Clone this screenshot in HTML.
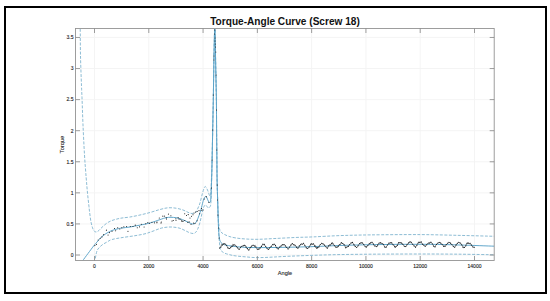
<!DOCTYPE html>
<html><head><meta charset="utf-8"><style>
html,body{margin:0;padding:0;background:#fff;width:550px;height:301px;overflow:hidden;font-family:"Liberation Sans",sans-serif;}
svg{display:block}
</style></head><body>
<svg width="550" height="301" viewBox="0 0 550 301">
<rect x="0" y="0" width="550" height="301" fill="#fff"/>
<rect x="5" y="7" width="541" height="286" fill="none" stroke="#000" stroke-width="2"/>
<defs><clipPath id="c"><rect x="75.5" y="28.9" width="418.7" height="231.6"/></clipPath></defs>
<path d="M94.50 28.50 V260.50 M148.79 28.50 V260.50 M203.07 28.50 V260.50 M257.36 28.50 V260.50 M311.64 28.50 V260.50 M365.93 28.50 V260.50 M420.21 28.50 V260.50 M474.50 28.50 V260.50 M75.50 255.00 H494.20 M75.50 223.93 H494.20 M75.50 192.85 H494.20 M75.50 161.78 H494.20 M75.50 130.70 H494.20 M75.50 99.62 H494.20 M75.50 68.55 H494.20 M75.50 37.47 H494.20" stroke="#f3f3f3" stroke-width="0.9" fill="none"/>
<g clip-path="url(#c)">
<path d="M79.80 20.00 C79.87 21.33 80.08 22.00 80.20 28.00 C80.32 34.00 80.28 46.33 80.50 56.00 C80.72 65.67 81.23 78.67 81.50 86.00 C81.77 93.33 81.85 93.50 82.10 100.00 C82.35 106.50 82.60 115.83 83.00 125.00 C83.40 134.17 83.97 146.17 84.50 155.00 C85.03 163.83 85.70 171.67 86.20 178.00 C86.70 184.33 87.07 188.50 87.50 193.00 C87.93 197.50 88.45 201.83 88.80 205.00 C89.15 208.17 89.23 209.17 89.60 212.00 C89.97 214.83 90.43 219.17 91.00 222.00 C91.57 224.83 92.30 227.37 93.00 229.00 C93.70 230.63 94.37 231.43 95.20 231.80 C96.03 232.17 96.87 231.95 98.00 231.20 C99.13 230.45 100.50 228.67 102.00 227.30 C103.50 225.93 105.33 224.13 107.00 223.00 C108.67 221.87 110.33 221.17 112.00 220.50 C113.67 219.83 115.33 219.42 117.00 219.00 C118.67 218.58 119.83 218.33 122.00 218.00 C124.17 217.67 127.00 217.50 130.00 217.00 C133.00 216.50 136.67 215.75 140.00 215.00 C143.33 214.25 146.67 213.42 150.00 212.50 C153.33 211.58 157.00 210.28 160.00 209.50 C163.00 208.72 165.33 208.02 168.00 207.80 C170.67 207.58 173.50 207.83 176.00 208.20 C178.50 208.57 181.00 209.32 183.00 210.00 C185.00 210.68 186.50 211.72 188.00 212.30 C189.50 212.88 190.67 213.55 192.00 213.50 C193.33 213.45 195.00 212.92 196.00 212.00 C197.00 211.08 197.33 209.50 198.00 208.00 C198.67 206.50 199.33 205.17 200.00 203.00 C200.67 200.83 201.37 197.33 202.00 195.00 C202.63 192.67 203.27 190.42 203.80 189.00 C204.33 187.58 204.70 186.58 205.20 186.50 C205.70 186.42 206.28 187.58 206.80 188.50 C207.32 189.42 207.80 190.75 208.30 192.00 C208.80 193.25 209.38 195.83 209.80 196.00 C210.22 196.17 210.50 196.50 210.80 193.00 C211.10 189.50 211.38 180.50 211.60 175.00 C211.82 169.50 211.95 165.83 212.10 160.00 C212.25 154.17 212.37 146.67 212.50 140.00 C212.63 133.33 212.77 126.67 212.90 120.00 C213.03 113.33 213.16 108.33 213.30 100.00 C213.44 91.67 213.62 78.33 213.75 70.00 C213.88 61.67 213.92 57.17 214.10 50.00 C214.28 42.83 214.58 27.00 214.80 27.00 C215.02 27.00 215.22 42.00 215.40 50.00 C215.58 58.00 215.73 66.67 215.90 75.00 C216.07 83.33 216.28 90.83 216.40 100.00 C216.52 109.17 216.52 120.00 216.60 130.00 C216.68 140.00 216.82 151.67 216.90 160.00 C216.98 168.33 217.00 174.17 217.10 180.00 C217.20 185.83 217.37 190.33 217.50 195.00 C217.63 199.67 217.73 203.67 217.90 208.00 C218.07 212.33 218.23 217.58 218.50 221.00 C218.77 224.42 219.08 226.67 219.50 228.50 C219.92 230.33 220.25 231.05 221.00 232.00 C221.75 232.95 222.67 233.47 224.00 234.20 C225.33 234.93 227.00 235.77 229.00 236.40 C231.00 237.03 233.17 237.57 236.00 238.00 C238.83 238.43 242.33 238.78 246.00 239.00 C249.67 239.22 253.17 239.38 258.00 239.30 C262.83 239.22 268.83 238.80 275.00 238.50 C281.17 238.20 288.67 237.77 295.00 237.50 C301.33 237.23 305.50 237.22 313.00 236.90 C320.50 236.58 330.50 235.93 340.00 235.60 C349.50 235.27 356.67 235.07 370.00 234.90 C383.33 234.73 405.00 234.52 420.00 234.60 C435.00 234.68 447.58 235.12 460.00 235.40 C472.42 235.68 488.75 236.15 494.50 236.30" stroke="#80b4cf" stroke-width="0.9" fill="none" stroke-dasharray="3 1.5"/>
<path d="M94.80 263.00 C94.90 262.17 95.12 259.75 95.40 258.00 C95.68 256.25 96.07 254.00 96.50 252.50 C96.93 251.00 97.08 250.25 98.00 249.00 C98.92 247.75 100.50 246.17 102.00 245.00 C103.50 243.83 105.33 242.92 107.00 242.00 C108.67 241.08 109.50 240.23 112.00 239.50 C114.50 238.77 118.17 238.23 122.00 237.60 C125.83 236.97 131.17 236.33 135.00 235.70 C138.83 235.07 142.17 234.50 145.00 233.80 C147.83 233.10 149.50 232.38 152.00 231.50 C154.50 230.62 157.83 229.18 160.00 228.50 C162.17 227.82 163.33 227.65 165.00 227.40 C166.67 227.15 168.33 227.02 170.00 227.00 C171.67 226.98 173.33 227.08 175.00 227.30 C176.67 227.52 178.33 227.77 180.00 228.30 C181.67 228.83 183.50 229.80 185.00 230.50 C186.50 231.20 187.67 232.00 189.00 232.50 C190.33 233.00 191.92 233.50 193.00 233.50 C194.08 233.50 194.75 233.17 195.50 232.50 C196.25 231.83 196.83 230.92 197.50 229.50 C198.17 228.08 198.92 225.92 199.50 224.00 C200.08 222.08 200.50 220.17 201.00 218.00 C201.50 215.83 202.00 212.92 202.50 211.00 C203.00 209.08 203.50 207.50 204.00 206.50 C204.50 205.50 205.00 205.00 205.50 205.00 C206.00 205.00 206.50 206.00 207.00 206.50 C207.50 207.00 208.03 207.92 208.50 208.00 C208.97 208.08 209.42 207.67 209.80 207.00 C210.18 206.33 210.55 206.50 210.80 204.00 C211.05 201.50 211.15 196.33 211.30 192.00 C211.45 187.67 211.57 183.33 211.70 178.00 C211.83 172.67 211.97 166.33 212.10 160.00 C212.23 153.67 212.37 146.67 212.50 140.00 C212.63 133.33 212.77 126.67 212.90 120.00 C213.03 113.33 213.16 108.33 213.30 100.00 C213.44 91.67 213.62 78.33 213.75 70.00 C213.88 61.67 213.92 57.17 214.10 50.00 C214.28 42.83 214.58 27.00 214.80 27.00 C215.02 27.00 215.22 42.00 215.40 50.00 C215.58 58.00 215.73 66.67 215.90 75.00 C216.07 83.33 216.28 90.83 216.40 100.00 C216.52 109.17 216.52 120.00 216.60 130.00 C216.68 140.00 216.82 151.67 216.90 160.00 C216.98 168.33 217.00 174.17 217.10 180.00 C217.20 185.83 217.33 189.17 217.50 195.00 C217.67 200.83 217.90 208.83 218.10 215.00 C218.30 221.17 218.45 227.17 218.70 232.00 C218.95 236.83 219.28 241.08 219.60 244.00 C219.92 246.92 220.20 248.25 220.60 249.50 C221.00 250.75 221.27 250.87 222.00 251.50 C222.73 252.13 223.67 252.75 225.00 253.30 C226.33 253.85 228.33 254.38 230.00 254.80 C231.67 255.22 232.50 255.47 235.00 255.80 C237.50 256.13 240.83 256.50 245.00 256.80 C249.17 257.10 252.50 257.70 260.00 257.60 C267.50 257.50 278.33 256.67 290.00 256.20 C301.67 255.73 316.67 255.13 330.00 254.80 C343.33 254.47 355.00 254.33 370.00 254.20 C385.00 254.07 405.00 254.00 420.00 254.00 C435.00 254.00 447.58 254.07 460.00 254.20 C472.42 254.33 488.75 254.70 494.50 254.80" stroke="#80b4cf" stroke-width="0.9" fill="none" stroke-dasharray="3 1.5"/>
<path d="M81.30 263.00 C81.50 262.67 81.38 262.58 82.50 261.00 C83.62 259.42 86.08 256.08 88.00 253.50 C89.92 250.92 92.50 247.42 94.00 245.50 C95.50 243.58 95.67 243.50 97.00 242.00 C98.33 240.50 100.33 238.00 102.00 236.50 C103.67 235.00 105.33 234.00 107.00 233.00 C108.67 232.00 110.33 231.17 112.00 230.50 C113.67 229.83 115.33 229.42 117.00 229.00 C118.67 228.58 119.83 228.33 122.00 228.00 C124.17 227.67 127.00 227.48 130.00 227.00 C133.00 226.52 136.67 225.77 140.00 225.10 C143.33 224.43 146.67 223.92 150.00 223.00 C153.33 222.08 157.33 220.48 160.00 219.60 C162.67 218.72 164.17 218.08 166.00 217.70 C167.83 217.32 169.33 217.30 171.00 217.30 C172.67 217.30 174.50 217.47 176.00 217.70 C177.50 217.93 178.50 218.20 180.00 218.70 C181.50 219.20 183.50 220.05 185.00 220.70 C186.50 221.35 187.75 222.05 189.00 222.60 C190.25 223.15 191.50 223.87 192.50 224.00 C193.50 224.13 194.25 223.98 195.00 223.40 C195.75 222.82 196.33 221.82 197.00 220.50 C197.67 219.18 198.33 217.33 199.00 215.50 C199.67 213.67 200.33 211.83 201.00 209.50 C201.67 207.17 202.42 203.50 203.00 201.50 C203.58 199.50 204.03 198.33 204.50 197.50 C204.97 196.67 205.38 196.42 205.80 196.50 C206.22 196.58 206.55 197.17 207.00 198.00 C207.45 198.83 208.03 200.80 208.50 201.50 C208.97 202.20 209.42 202.62 209.80 202.20 C210.18 201.78 210.50 202.70 210.80 199.00 C211.10 195.30 211.38 186.50 211.60 180.00 C211.82 173.50 211.95 166.67 212.10 160.00 C212.25 153.33 212.37 146.67 212.50 140.00 C212.63 133.33 212.77 126.67 212.90 120.00 C213.03 113.33 213.16 108.33 213.30 100.00 C213.44 91.67 213.62 78.33 213.75 70.00 C213.88 61.67 213.92 57.17 214.10 50.00 C214.28 42.83 214.58 27.00 214.80 27.00 C215.02 27.00 215.22 42.00 215.40 50.00 C215.58 58.00 215.73 66.67 215.90 75.00 C216.07 83.33 216.28 90.83 216.40 100.00 C216.52 109.17 216.52 120.00 216.60 130.00 C216.68 140.00 216.82 151.67 216.90 160.00 C216.98 168.33 217.00 174.17 217.10 180.00 C217.20 185.83 217.35 189.67 217.50 195.00 C217.65 200.33 217.83 206.67 218.00 212.00 C218.17 217.33 218.30 222.83 218.50 227.00 C218.70 231.17 218.90 234.60 219.20 237.00 C219.50 239.40 219.83 240.30 220.30 241.40 C220.77 242.50 221.30 243.03 222.00 243.60 C222.70 244.17 222.50 244.33 224.50 244.80 C226.50 245.27 229.75 245.95 234.00 246.40 C238.25 246.85 242.33 247.33 250.00 247.50 C257.67 247.67 269.50 247.55 280.00 247.40 C290.50 247.25 303.00 246.92 313.00 246.60 C323.00 246.28 330.50 245.82 340.00 245.50 C349.50 245.18 360.00 244.90 370.00 244.70 C380.00 244.50 390.00 244.37 400.00 244.30 C410.00 244.23 420.00 244.18 430.00 244.30 C440.00 244.42 449.25 244.68 460.00 245.00 C470.75 245.32 488.75 246.00 494.50 246.20" stroke="#5aa2c8" stroke-width="0.95" fill="none"/>
<path d="M219.50 248.03 L220.20 247.88 L220.90 247.09 L221.60 244.50 L222.30 245.11 L223.00 243.53 L223.70 244.12 L224.40 243.21 L225.10 244.07 L225.80 245.00 L226.50 245.32 L227.20 246.57 L227.90 247.92 L228.60 248.44 L229.30 248.52 L230.00 248.69 L230.70 247.57 L231.40 246.02 L232.10 246.41 L232.80 244.35 L233.50 244.98 L234.20 244.54 L234.90 244.95 L235.60 245.71 L236.30 246.36 L237.00 247.61 L237.70 247.83 L238.40 248.58 L239.10 249.56 L239.80 248.41 L240.50 247.43 L241.20 246.21 L241.90 246.46 L242.60 245.73 L243.30 245.80 L244.00 244.84 L244.70 245.44 L245.40 245.49 L246.10 247.08 L246.80 248.45 L247.50 248.49 L248.20 250.15 L248.90 249.99 L249.60 248.95 L250.30 247.23 L251.00 247.48 L251.70 245.99 L252.40 245.22 L253.10 245.36 L253.80 245.32 L254.50 245.94 L255.20 245.39 L255.90 247.05 L256.60 248.23 L257.30 249.24 L258.00 249.26 L258.70 249.10 L259.40 249.22 L260.10 247.85 L260.80 246.76 L261.50 246.39 L262.20 245.16 L262.90 244.08 L263.60 244.81 L264.30 244.41 L265.00 245.94 L265.70 246.54 L266.40 247.21 L267.10 248.47 L267.80 249.47 L268.50 249.21 L269.20 249.11 L269.90 247.54 L270.60 246.89 L271.30 246.18 L272.00 245.67 L272.70 244.49 L273.40 245.08 L274.10 244.16 L274.80 244.94 L275.50 245.39 L276.20 247.64 L276.90 247.74 L277.60 248.88 L278.30 248.85 L279.00 248.31 L279.70 247.06 L280.40 246.30 L281.10 246.04 L281.80 244.78 L282.50 244.72 L283.20 244.88 L283.90 244.58 L284.60 244.63 L285.30 245.71 L286.00 247.41 L286.70 247.34 L287.40 248.40 L288.10 249.07 L288.80 248.37 L289.50 247.03 L290.20 246.26 L290.90 245.12 L291.60 244.04 L292.30 243.63 L293.00 243.97 L293.70 244.78 L294.40 244.66 L295.10 245.34 L295.80 246.44 L296.50 247.14 L297.20 248.35 L297.90 247.94 L298.60 247.94 L299.30 245.82 L300.00 245.81 L300.70 244.55 L301.40 243.49 L302.10 244.31 L302.80 243.89 L303.50 243.30 L304.20 244.33 L304.90 245.61 L305.60 246.36 L306.30 247.87 L307.00 248.49 L307.70 248.46 L308.40 247.70 L309.10 247.08 L309.80 245.72 L310.50 244.77 L311.20 243.22 L311.90 244.17 L312.60 244.32 L313.30 243.87 L314.00 244.30 L314.70 246.08 L315.40 245.65 L316.10 247.55 L316.80 248.96 L317.50 247.61 L318.20 247.63 L318.90 247.07 L319.60 245.18 L320.30 244.60 L321.00 244.20 L321.70 243.24 L322.40 243.55 L323.10 243.91 L323.80 244.62 L324.50 245.10 L325.20 246.09 L325.90 246.77 L326.60 247.64 L327.30 248.13 L328.00 247.17 L328.70 245.75 L329.40 244.67 L330.10 245.22 L330.80 244.09 L331.50 243.65 L332.20 242.35 L332.90 243.85 L333.60 244.30 L334.30 245.61 L335.00 246.17 L335.70 246.98 L336.40 247.82 L337.10 246.81 L337.80 247.35 L338.50 246.04 L339.20 244.55 L339.90 244.51 L340.60 244.19 L341.30 242.67 L342.00 242.96 L342.70 243.56 L343.40 244.03 L344.10 244.63 L344.80 245.46 L345.50 247.70 L346.20 247.87 L346.90 246.94 L347.60 246.23 L348.30 246.41 L349.00 245.04 L349.70 244.53 L350.40 243.62 L351.10 242.72 L351.80 243.17 L352.50 242.42 L353.20 243.50 L353.90 244.62 L354.60 245.92 L355.30 246.41 L356.00 247.25 L356.70 247.44 L357.40 246.74 L358.10 245.80 L358.80 244.55 L359.50 243.50 L360.20 243.44 L360.90 242.92 L361.60 242.57 L362.30 242.88 L363.00 243.65 L363.70 244.45 L364.40 245.62 L365.10 246.55 L365.80 247.21 L366.50 247.03 L367.20 245.91 L367.90 245.53 L368.60 244.71 L369.30 243.63 L370.00 242.88 L370.70 242.92 L371.40 242.36 L372.10 242.21 L372.80 243.53 L373.50 243.99 L374.20 245.72 L374.90 245.99 L375.60 245.95 L376.30 246.53 L377.00 246.90 L377.70 245.07 L378.40 243.61 L379.10 243.03 L379.80 243.05 L380.50 242.83 L381.20 242.71 L381.90 243.47 L382.60 243.70 L383.30 244.27 L384.00 245.59 L384.70 247.00 L385.40 247.30 L386.10 247.25 L386.80 245.72 L387.50 245.05 L388.20 244.33 L388.90 243.10 L389.60 243.16 L390.30 242.77 L391.00 242.91 L391.70 242.70 L392.40 244.35 L393.10 244.69 L393.80 245.18 L394.50 246.29 L395.20 247.85 L395.90 246.60 L396.60 246.39 L397.30 245.38 L398.00 243.93 L398.70 242.65 L399.40 242.71 L400.10 242.58 L400.80 242.90 L401.50 243.01 L402.20 243.25 L402.90 244.45 L403.60 245.40 L404.30 246.25 L405.00 246.74 L405.70 246.53 L406.40 246.20 L407.10 244.45 L407.80 243.56 L408.50 243.01 L409.20 241.95 L409.90 242.16 L410.60 241.55 L411.30 242.33 L412.00 243.38 L412.70 244.26 L413.40 245.08 L414.10 245.99 L414.80 246.06 L415.50 247.26 L416.20 246.02 L416.90 245.20 L417.60 243.35 L418.30 242.83 L419.00 241.70 L419.70 242.55 L420.40 242.63 L421.10 241.75 L421.80 243.05 L422.50 244.21 L423.20 244.35 L423.90 245.32 L424.60 246.17 L425.30 246.25 L426.00 245.24 L426.70 244.78 L427.40 243.83 L428.10 243.20 L428.80 242.78 L429.50 242.93 L430.20 242.84 L430.90 242.13 L431.60 243.03 L432.30 243.71 L433.00 244.80 L433.70 246.18 L434.40 246.76 L435.10 246.85 L435.80 245.31 L436.50 244.41 L437.20 243.86 L437.90 243.01 L438.60 242.53 L439.30 242.46 L440.00 242.23 L440.70 243.09 L441.40 243.54 L442.10 244.27 L442.80 245.13 L443.50 246.31 L444.20 245.83 L444.90 246.41 L445.60 246.10 L446.30 244.44 L447.00 244.09 L447.70 243.30 L448.40 242.25 L449.10 242.54 L449.80 242.56 L450.50 243.16 L451.20 243.81 L451.90 244.46 L452.60 245.23 L453.30 246.49 L454.00 247.05 L454.70 247.24 L455.40 246.34 L456.10 244.89 L456.80 243.61 L457.50 243.23 L458.20 242.65 L458.90 242.35 L459.60 242.80 L460.30 242.93 L461.00 243.76 L461.70 244.84 L462.40 245.56 L463.10 247.62 L463.80 247.07 L464.50 247.50 L465.20 246.37 L465.90 245.71 L466.60 243.28 L467.30 243.16 L468.00 243.13 L468.70 243.11 L469.40 243.85 L470.10 243.33 L470.80 244.31 L471.50 245.02 L472.20 246.19 L472.90 246.97 L473.60 247.21 L474.30 247.32" stroke="#2a2f33" stroke-width="0.75" stroke-linejoin="round" fill="none" opacity="0.85"/>
<g fill="#1e2326"><circle cx="219.50" cy="248.03" r="0.55"/><circle cx="220.90" cy="247.09" r="0.55"/><circle cx="222.30" cy="245.11" r="0.55"/><circle cx="223.70" cy="244.12" r="0.55"/><circle cx="225.10" cy="244.07" r="0.55"/><circle cx="226.50" cy="245.32" r="0.55"/><circle cx="227.90" cy="247.92" r="0.55"/><circle cx="229.30" cy="248.52" r="0.55"/><circle cx="230.70" cy="247.57" r="0.55"/><circle cx="232.10" cy="246.41" r="0.55"/><circle cx="233.50" cy="244.98" r="0.55"/><circle cx="234.90" cy="244.95" r="0.55"/><circle cx="236.30" cy="246.36" r="0.55"/><circle cx="237.70" cy="247.83" r="0.55"/><circle cx="239.10" cy="249.56" r="0.55"/><circle cx="240.50" cy="247.43" r="0.55"/><circle cx="241.90" cy="246.46" r="0.55"/><circle cx="243.30" cy="245.80" r="0.55"/><circle cx="244.70" cy="245.44" r="0.55"/><circle cx="246.10" cy="247.08" r="0.55"/><circle cx="247.50" cy="248.49" r="0.55"/><circle cx="248.90" cy="249.99" r="0.55"/><circle cx="250.30" cy="247.23" r="0.55"/><circle cx="251.70" cy="245.99" r="0.55"/><circle cx="253.10" cy="245.36" r="0.55"/><circle cx="254.50" cy="245.94" r="0.55"/><circle cx="255.90" cy="247.05" r="0.55"/><circle cx="257.30" cy="249.24" r="0.55"/><circle cx="258.70" cy="249.10" r="0.55"/><circle cx="260.10" cy="247.85" r="0.55"/><circle cx="261.50" cy="246.39" r="0.55"/><circle cx="262.90" cy="244.08" r="0.55"/><circle cx="264.30" cy="244.41" r="0.55"/><circle cx="265.70" cy="246.54" r="0.55"/><circle cx="267.10" cy="248.47" r="0.55"/><circle cx="268.50" cy="249.21" r="0.55"/><circle cx="269.90" cy="247.54" r="0.55"/><circle cx="271.30" cy="246.18" r="0.55"/><circle cx="272.70" cy="244.49" r="0.55"/><circle cx="274.10" cy="244.16" r="0.55"/><circle cx="275.50" cy="245.39" r="0.55"/><circle cx="276.90" cy="247.74" r="0.55"/><circle cx="278.30" cy="248.85" r="0.55"/><circle cx="279.70" cy="247.06" r="0.55"/><circle cx="281.10" cy="246.04" r="0.55"/><circle cx="282.50" cy="244.72" r="0.55"/><circle cx="283.90" cy="244.58" r="0.55"/><circle cx="285.30" cy="245.71" r="0.55"/><circle cx="286.70" cy="247.34" r="0.55"/><circle cx="288.10" cy="249.07" r="0.55"/><circle cx="289.50" cy="247.03" r="0.55"/><circle cx="290.90" cy="245.12" r="0.55"/><circle cx="292.30" cy="243.63" r="0.55"/><circle cx="293.70" cy="244.78" r="0.55"/><circle cx="295.10" cy="245.34" r="0.55"/><circle cx="296.50" cy="247.14" r="0.55"/><circle cx="297.90" cy="247.94" r="0.55"/><circle cx="299.30" cy="245.82" r="0.55"/><circle cx="300.70" cy="244.55" r="0.55"/><circle cx="302.10" cy="244.31" r="0.55"/><circle cx="303.50" cy="243.30" r="0.55"/><circle cx="304.90" cy="245.61" r="0.55"/><circle cx="306.30" cy="247.87" r="0.55"/><circle cx="307.70" cy="248.46" r="0.55"/><circle cx="309.10" cy="247.08" r="0.55"/><circle cx="310.50" cy="244.77" r="0.55"/><circle cx="311.90" cy="244.17" r="0.55"/><circle cx="313.30" cy="243.87" r="0.55"/><circle cx="314.70" cy="246.08" r="0.55"/><circle cx="316.10" cy="247.55" r="0.55"/><circle cx="317.50" cy="247.61" r="0.55"/><circle cx="318.90" cy="247.07" r="0.55"/><circle cx="320.30" cy="244.60" r="0.55"/><circle cx="321.70" cy="243.24" r="0.55"/><circle cx="323.10" cy="243.91" r="0.55"/><circle cx="324.50" cy="245.10" r="0.55"/><circle cx="325.90" cy="246.77" r="0.55"/><circle cx="327.30" cy="248.13" r="0.55"/><circle cx="328.70" cy="245.75" r="0.55"/><circle cx="330.10" cy="245.22" r="0.55"/><circle cx="331.50" cy="243.65" r="0.55"/><circle cx="332.90" cy="243.85" r="0.55"/><circle cx="334.30" cy="245.61" r="0.55"/><circle cx="335.70" cy="246.98" r="0.55"/><circle cx="337.10" cy="246.81" r="0.55"/><circle cx="338.50" cy="246.04" r="0.55"/><circle cx="339.90" cy="244.51" r="0.55"/><circle cx="341.30" cy="242.67" r="0.55"/><circle cx="342.70" cy="243.56" r="0.55"/><circle cx="344.10" cy="244.63" r="0.55"/><circle cx="345.50" cy="247.70" r="0.55"/><circle cx="346.90" cy="246.94" r="0.55"/><circle cx="348.30" cy="246.41" r="0.55"/><circle cx="349.70" cy="244.53" r="0.55"/><circle cx="351.10" cy="242.72" r="0.55"/><circle cx="352.50" cy="242.42" r="0.55"/><circle cx="353.90" cy="244.62" r="0.55"/><circle cx="355.30" cy="246.41" r="0.55"/><circle cx="356.70" cy="247.44" r="0.55"/><circle cx="358.10" cy="245.80" r="0.55"/><circle cx="359.50" cy="243.50" r="0.55"/><circle cx="360.90" cy="242.92" r="0.55"/><circle cx="362.30" cy="242.88" r="0.55"/><circle cx="363.70" cy="244.45" r="0.55"/><circle cx="365.10" cy="246.55" r="0.55"/><circle cx="366.50" cy="247.03" r="0.55"/><circle cx="367.90" cy="245.53" r="0.55"/><circle cx="369.30" cy="243.63" r="0.55"/><circle cx="370.70" cy="242.92" r="0.55"/><circle cx="372.10" cy="242.21" r="0.55"/><circle cx="373.50" cy="243.99" r="0.55"/><circle cx="374.90" cy="245.99" r="0.55"/><circle cx="376.30" cy="246.53" r="0.55"/><circle cx="377.70" cy="245.07" r="0.55"/><circle cx="379.10" cy="243.03" r="0.55"/><circle cx="380.50" cy="242.83" r="0.55"/><circle cx="381.90" cy="243.47" r="0.55"/><circle cx="383.30" cy="244.27" r="0.55"/><circle cx="384.70" cy="247.00" r="0.55"/><circle cx="386.10" cy="247.25" r="0.55"/><circle cx="387.50" cy="245.05" r="0.55"/><circle cx="388.90" cy="243.10" r="0.55"/><circle cx="390.30" cy="242.77" r="0.55"/><circle cx="391.70" cy="242.70" r="0.55"/><circle cx="393.10" cy="244.69" r="0.55"/><circle cx="394.50" cy="246.29" r="0.55"/><circle cx="395.90" cy="246.60" r="0.55"/><circle cx="397.30" cy="245.38" r="0.55"/><circle cx="398.70" cy="242.65" r="0.55"/><circle cx="400.10" cy="242.58" r="0.55"/><circle cx="401.50" cy="243.01" r="0.55"/><circle cx="402.90" cy="244.45" r="0.55"/><circle cx="404.30" cy="246.25" r="0.55"/><circle cx="405.70" cy="246.53" r="0.55"/><circle cx="407.10" cy="244.45" r="0.55"/><circle cx="408.50" cy="243.01" r="0.55"/><circle cx="409.90" cy="242.16" r="0.55"/><circle cx="411.30" cy="242.33" r="0.55"/><circle cx="412.70" cy="244.26" r="0.55"/><circle cx="414.10" cy="245.99" r="0.55"/><circle cx="415.50" cy="247.26" r="0.55"/><circle cx="416.90" cy="245.20" r="0.55"/><circle cx="418.30" cy="242.83" r="0.55"/><circle cx="419.70" cy="242.55" r="0.55"/><circle cx="421.10" cy="241.75" r="0.55"/><circle cx="422.50" cy="244.21" r="0.55"/><circle cx="423.90" cy="245.32" r="0.55"/><circle cx="425.30" cy="246.25" r="0.55"/><circle cx="426.70" cy="244.78" r="0.55"/><circle cx="428.10" cy="243.20" r="0.55"/><circle cx="429.50" cy="242.93" r="0.55"/><circle cx="430.90" cy="242.13" r="0.55"/><circle cx="432.30" cy="243.71" r="0.55"/><circle cx="433.70" cy="246.18" r="0.55"/><circle cx="435.10" cy="246.85" r="0.55"/><circle cx="436.50" cy="244.41" r="0.55"/><circle cx="437.90" cy="243.01" r="0.55"/><circle cx="439.30" cy="242.46" r="0.55"/><circle cx="440.70" cy="243.09" r="0.55"/><circle cx="442.10" cy="244.27" r="0.55"/><circle cx="443.50" cy="246.31" r="0.55"/><circle cx="444.90" cy="246.41" r="0.55"/><circle cx="446.30" cy="244.44" r="0.55"/><circle cx="447.70" cy="243.30" r="0.55"/><circle cx="449.10" cy="242.54" r="0.55"/><circle cx="450.50" cy="243.16" r="0.55"/><circle cx="451.90" cy="244.46" r="0.55"/><circle cx="453.30" cy="246.49" r="0.55"/><circle cx="454.70" cy="247.24" r="0.55"/><circle cx="456.10" cy="244.89" r="0.55"/><circle cx="457.50" cy="243.23" r="0.55"/><circle cx="458.90" cy="242.35" r="0.55"/><circle cx="460.30" cy="242.93" r="0.55"/><circle cx="461.70" cy="244.84" r="0.55"/><circle cx="463.10" cy="247.62" r="0.55"/><circle cx="464.50" cy="247.50" r="0.55"/><circle cx="465.90" cy="245.71" r="0.55"/><circle cx="467.30" cy="243.16" r="0.55"/><circle cx="468.70" cy="243.11" r="0.55"/><circle cx="470.10" cy="243.33" r="0.55"/><circle cx="471.50" cy="245.02" r="0.55"/><circle cx="472.90" cy="246.97" r="0.55"/><circle cx="474.30" cy="247.32" r="0.55"/></g>
<circle cx="94.89" cy="245.60" r="0.55" fill="#1a1a1a"/>
<circle cx="96.52" cy="244.35" r="0.55" fill="#1a1a1a"/>
<circle cx="98.15" cy="240.03" r="0.55" fill="#1a1a1a"/>
<circle cx="100.16" cy="238.22" r="0.55" fill="#1a1a1a"/>
<circle cx="101.90" cy="236.92" r="0.55" fill="#1a1a1a"/>
<circle cx="103.74" cy="234.65" r="0.55" fill="#1a1a1a"/>
<circle cx="106.43" cy="230.16" r="0.55" fill="#1a1a1a"/>
<circle cx="108.07" cy="235.05" r="0.55" fill="#1a1a1a"/>
<circle cx="109.44" cy="232.62" r="0.55" fill="#1a1a1a"/>
<circle cx="112.01" cy="231.31" r="0.55" fill="#1a1a1a"/>
<circle cx="114.50" cy="228.46" r="0.55" fill="#1a1a1a"/>
<circle cx="115.64" cy="230.69" r="0.55" fill="#1a1a1a"/>
<circle cx="117.70" cy="227.71" r="0.55" fill="#1a1a1a"/>
<circle cx="119.78" cy="229.01" r="0.55" fill="#1a1a1a"/>
<circle cx="121.81" cy="227.72" r="0.55" fill="#1a1a1a"/>
<circle cx="123.85" cy="226.71" r="0.55" fill="#1a1a1a"/>
<circle cx="126.60" cy="226.45" r="0.55" fill="#1a1a1a"/>
<circle cx="127.98" cy="231.33" r="0.55" fill="#1a1a1a"/>
<circle cx="130.28" cy="226.48" r="0.55" fill="#1a1a1a"/>
<circle cx="132.98" cy="226.49" r="0.55" fill="#1a1a1a"/>
<circle cx="135.25" cy="225.14" r="0.55" fill="#1a1a1a"/>
<circle cx="137.30" cy="227.75" r="0.55" fill="#1a1a1a"/>
<circle cx="139.50" cy="226.83" r="0.55" fill="#1a1a1a"/>
<circle cx="141.36" cy="224.18" r="0.55" fill="#1a1a1a"/>
<circle cx="144.09" cy="227.04" r="0.55" fill="#1a1a1a"/>
<circle cx="145.74" cy="223.76" r="0.55" fill="#1a1a1a"/>
<circle cx="147.85" cy="222.51" r="0.55" fill="#1a1a1a"/>
<circle cx="149.44" cy="223.28" r="0.55" fill="#1a1a1a"/>
<circle cx="151.96" cy="222.28" r="0.55" fill="#1a1a1a"/>
<circle cx="154.55" cy="222.86" r="0.55" fill="#1a1a1a"/>
<circle cx="156.86" cy="222.74" r="0.55" fill="#1a1a1a"/>
<circle cx="159.30" cy="217.94" r="0.55" fill="#1a1a1a"/>
<circle cx="161.33" cy="221.97" r="0.55" fill="#1a1a1a"/>
<circle cx="162.84" cy="216.13" r="0.55" fill="#1a1a1a"/>
<circle cx="164.60" cy="216.10" r="0.55" fill="#1a1a1a"/>
<circle cx="166.23" cy="217.85" r="0.55" fill="#1a1a1a"/>
<circle cx="168.43" cy="214.11" r="0.55" fill="#1a1a1a"/>
<circle cx="170.89" cy="215.81" r="0.55" fill="#1a1a1a"/>
<circle cx="173.25" cy="220.50" r="0.55" fill="#1a1a1a"/>
<circle cx="175.86" cy="218.74" r="0.55" fill="#1a1a1a"/>
<circle cx="178.09" cy="217.67" r="0.55" fill="#1a1a1a"/>
<circle cx="180.18" cy="219.29" r="0.55" fill="#1a1a1a"/>
<circle cx="181.76" cy="220.19" r="0.55" fill="#1a1a1a"/>
<circle cx="183.11" cy="221.23" r="0.55" fill="#1a1a1a"/>
<circle cx="184.78" cy="220.49" r="0.55" fill="#1a1a1a"/>
<circle cx="187.71" cy="222.21" r="0.55" fill="#1a1a1a"/>
<circle cx="189.10" cy="221.88" r="0.55" fill="#1a1a1a"/>
<circle cx="191.03" cy="224.50" r="0.55" fill="#1a1a1a"/>
<circle cx="193.59" cy="223.10" r="0.55" fill="#1a1a1a"/>
<circle cx="195.06" cy="223.24" r="0.55" fill="#1a1a1a"/>
<circle cx="197.12" cy="220.78" r="0.55" fill="#1a1a1a"/>
<circle cx="199.67" cy="213.80" r="0.55" fill="#1a1a1a"/>
<circle cx="201.29" cy="210.26" r="0.55" fill="#1a1a1a"/>
<circle cx="204.25" cy="199.06" r="0.55" fill="#1a1a1a"/>
<circle cx="206.26" cy="196.65" r="0.55" fill="#1a1a1a"/>
<circle cx="208.91" cy="202.38" r="0.55" fill="#1a1a1a"/>
<circle cx="184.70" cy="213.80" r="0.55" fill="#1a1a1a"/>
<circle cx="186.50" cy="215.50" r="0.55" fill="#1a1a1a"/>
<circle cx="188.20" cy="214.60" r="0.55" fill="#1a1a1a"/>
<circle cx="190.00" cy="218.00" r="0.55" fill="#1a1a1a"/>
<circle cx="191.50" cy="216.20" r="0.55" fill="#1a1a1a"/>
<circle cx="193.00" cy="214.80" r="0.55" fill="#1a1a1a"/>
<circle cx="194.00" cy="213.00" r="0.55" fill="#1a1a1a"/>
<circle cx="195.70" cy="212.00" r="0.55" fill="#1a1a1a"/>
<circle cx="197.20" cy="211.50" r="0.55" fill="#1a1a1a"/>
<circle cx="199.00" cy="210.60" r="0.55" fill="#1a1a1a"/>
<circle cx="201.50" cy="208.50" r="0.55" fill="#1a1a1a"/>
<circle cx="203.00" cy="210.00" r="0.55" fill="#1a1a1a"/>
<circle cx="157.00" cy="222.00" r="0.55" fill="#1a1a1a"/>
<circle cx="161.00" cy="223.00" r="0.55" fill="#1a1a1a"/>
<circle cx="166.50" cy="219.00" r="0.55" fill="#1a1a1a"/>
<circle cx="172.00" cy="221.00" r="0.55" fill="#1a1a1a"/>
<circle cx="179.00" cy="219.00" r="0.55" fill="#1a1a1a"/>
<circle cx="176.00" cy="220.30" r="0.55" fill="#1a1a1a"/>
<circle cx="182.00" cy="221.40" r="0.55" fill="#1a1a1a"/>
<circle cx="214.80" cy="30.00" r="0.55" fill="#1a1a1a"/>
<circle cx="214.60" cy="34.00" r="0.55" fill="#1a1a1a"/>
<circle cx="215.10" cy="38.00" r="0.55" fill="#1a1a1a"/>
<circle cx="215.00" cy="41.00" r="0.55" fill="#1a1a1a"/>
<circle cx="215.30" cy="44.00" r="0.55" fill="#1a1a1a"/>
<circle cx="215.50" cy="47.00" r="0.55" fill="#1a1a1a"/>
<circle cx="215.80" cy="52.00" r="0.55" fill="#1a1a1a"/>
<circle cx="214.00" cy="56.00" r="0.55" fill="#1a1a1a"/>
<circle cx="213.90" cy="60.00" r="0.55" fill="#1a1a1a"/>
<circle cx="216.10" cy="75.00" r="0.55" fill="#1a1a1a"/>
<circle cx="213.30" cy="95.00" r="0.55" fill="#1a1a1a"/>
<circle cx="216.50" cy="110.00" r="0.55" fill="#1a1a1a"/>
<circle cx="212.70" cy="130.00" r="0.55" fill="#1a1a1a"/>
<circle cx="216.80" cy="150.00" r="0.55" fill="#1a1a1a"/>
<circle cx="212.10" cy="160.00" r="0.55" fill="#1a1a1a"/>
<circle cx="217.30" cy="185.00" r="0.55" fill="#1a1a1a"/>
<circle cx="211.50" cy="188.00" r="0.55" fill="#1a1a1a"/>
<circle cx="217.60" cy="200.00" r="0.55" fill="#1a1a1a"/>
<circle cx="217.90" cy="215.00" r="0.55" fill="#1a1a1a"/>
<circle cx="218.40" cy="228.00" r="0.55" fill="#1a1a1a"/>
<circle cx="219.20" cy="238.00" r="0.55" fill="#1a1a1a"/>
</g>
<rect x="75.5" y="28.5" width="418.7" height="232.0" fill="none" stroke="#939393" stroke-width="0.9"/>
<path d="M94.50 260.50 v-4.5 M94.50 28.50 v4.5 M148.79 260.50 v-4.5 M148.79 28.50 v4.5 M203.07 260.50 v-4.5 M203.07 28.50 v4.5 M257.36 260.50 v-4.5 M257.36 28.50 v4.5 M311.64 260.50 v-4.5 M311.64 28.50 v4.5 M365.93 260.50 v-4.5 M365.93 28.50 v4.5 M420.21 260.50 v-4.5 M420.21 28.50 v4.5 M474.50 260.50 v-4.5 M474.50 28.50 v4.5 M75.50 255.00 h4.5 M494.20 255.00 h-4.5 M75.50 223.93 h4.5 M494.20 223.93 h-4.5 M75.50 192.85 h4.5 M494.20 192.85 h-4.5 M75.50 161.78 h4.5 M494.20 161.78 h-4.5 M75.50 130.70 h4.5 M494.20 130.70 h-4.5 M75.50 99.62 h4.5 M494.20 99.62 h-4.5 M75.50 68.55 h4.5 M494.20 68.55 h-4.5 M75.50 37.47 h4.5 M494.20 37.47 h-4.5" stroke="#858585" stroke-width="0.8" fill="none"/>
<text x="94.50" y="268" font-family="Liberation Sans, sans-serif" font-size="5" fill="#222" stroke="#222" stroke-width="0.12" text-anchor="middle">0</text>
<text x="148.79" y="268" font-family="Liberation Sans, sans-serif" font-size="5" fill="#222" stroke="#222" stroke-width="0.12" text-anchor="middle">2000</text>
<text x="203.07" y="268" font-family="Liberation Sans, sans-serif" font-size="5" fill="#222" stroke="#222" stroke-width="0.12" text-anchor="middle">4000</text>
<text x="257.36" y="268" font-family="Liberation Sans, sans-serif" font-size="5" fill="#222" stroke="#222" stroke-width="0.12" text-anchor="middle">6000</text>
<text x="311.64" y="268" font-family="Liberation Sans, sans-serif" font-size="5" fill="#222" stroke="#222" stroke-width="0.12" text-anchor="middle">8000</text>
<text x="365.93" y="268" font-family="Liberation Sans, sans-serif" font-size="5" fill="#222" stroke="#222" stroke-width="0.12" text-anchor="middle">10000</text>
<text x="420.21" y="268" font-family="Liberation Sans, sans-serif" font-size="5" fill="#222" stroke="#222" stroke-width="0.12" text-anchor="middle">12000</text>
<text x="474.50" y="268" font-family="Liberation Sans, sans-serif" font-size="5" fill="#222" stroke="#222" stroke-width="0.12" text-anchor="middle">14000</text>
<text x="73.5" y="256.80" font-family="Liberation Sans, sans-serif" font-size="5" fill="#222" stroke="#222" stroke-width="0.12" text-anchor="end">0</text>
<text x="73.5" y="225.73" font-family="Liberation Sans, sans-serif" font-size="5" fill="#222" stroke="#222" stroke-width="0.12" text-anchor="end">0.5</text>
<text x="73.5" y="194.65" font-family="Liberation Sans, sans-serif" font-size="5" fill="#222" stroke="#222" stroke-width="0.12" text-anchor="end">1</text>
<text x="73.5" y="163.58" font-family="Liberation Sans, sans-serif" font-size="5" fill="#222" stroke="#222" stroke-width="0.12" text-anchor="end">1.5</text>
<text x="73.5" y="132.50" font-family="Liberation Sans, sans-serif" font-size="5" fill="#222" stroke="#222" stroke-width="0.12" text-anchor="end">2</text>
<text x="73.5" y="101.42" font-family="Liberation Sans, sans-serif" font-size="5" fill="#222" stroke="#222" stroke-width="0.12" text-anchor="end">2.5</text>
<text x="73.5" y="70.35" font-family="Liberation Sans, sans-serif" font-size="5" fill="#222" stroke="#222" stroke-width="0.12" text-anchor="end">3</text>
<text x="73.5" y="39.27" font-family="Liberation Sans, sans-serif" font-size="5" fill="#222" stroke="#222" stroke-width="0.12" text-anchor="end">3.5</text>
<text x="285" y="274.7" font-family="Liberation Sans, sans-serif" font-size="5.6" fill="#262626" stroke="#262626" stroke-width="0.1" text-anchor="middle">Angle</text>
<text transform="translate(64.4 144.5) rotate(-90)" x="0" y="0" font-family="Liberation Sans, sans-serif" font-size="5.7" fill="#262626" stroke="#262626" stroke-width="0.1" text-anchor="middle">Torque</text>
<text x="285" y="24.7" font-family="Liberation Sans, sans-serif" font-size="10.1" font-weight="bold" fill="#111" text-anchor="middle">Torque-Angle Curve (Screw 18)</text>
</svg>
</body></html>
